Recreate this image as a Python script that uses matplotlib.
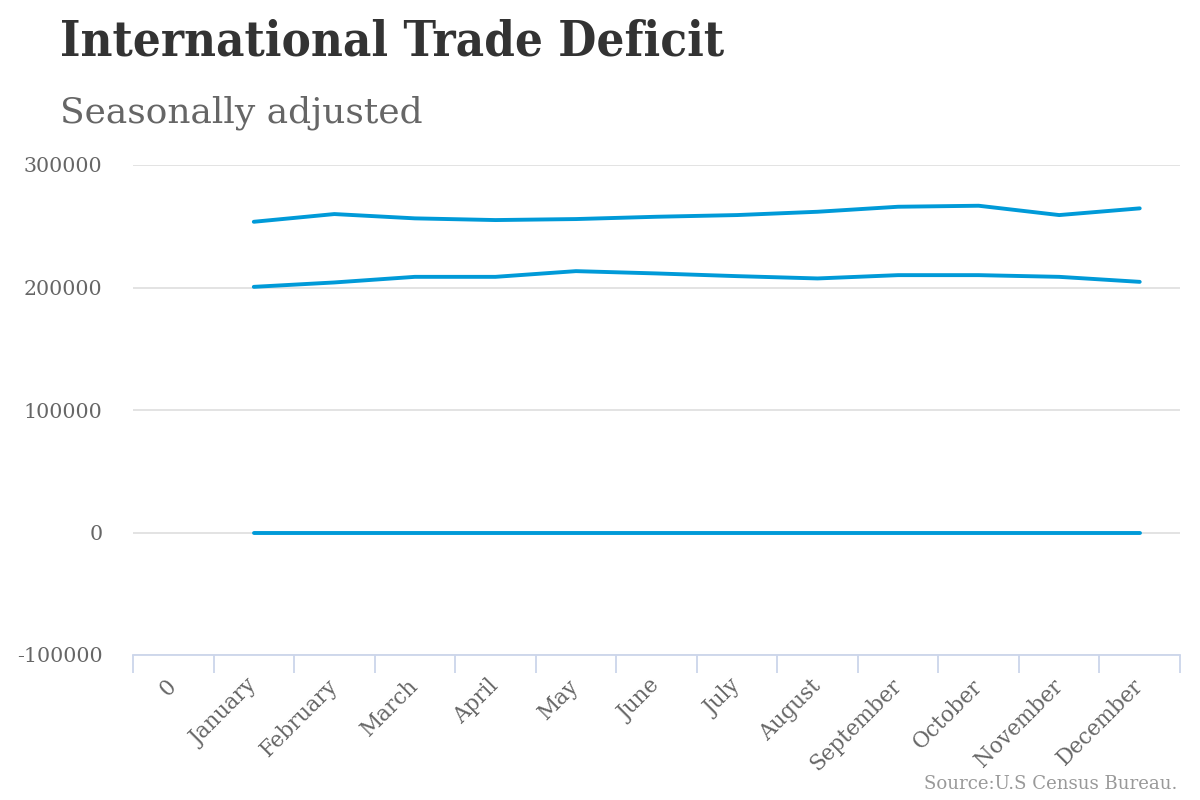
import matplotlib
matplotlib.use('Agg')
import matplotlib.pyplot as plt
import numpy as np

categories = ['0', 'January', 'February', 'March', 'April', 'May', 'June',
              'July', 'August', 'September', 'October', 'November', 'December']
months = categories[1:]

# values (start at January)
series_a = [253650, 259950, 256440, 255050, 255870, 257750,
            259130, 261830, 265920, 266740, 259130, 264610]
series_b = [200530, 204120, 208700, 208700, 213360, 211480,
            209270, 207390, 210090, 210090, 208700, 204610]
series_c = [0, 0, 0, 0, 0, 0, 0, 0, 0, 0, 0, 0]

y_ticks = [-100000, 0, 100000, 200000, 300000]

line_color = '#009ad8'
plt.rcParams['font.family'] = ['DejaVu Serif']

fig = plt.figure(figsize=(12, 8), dpi=100)
ax = fig.add_axes([133/1200, 1-655/800, (1180-133)/1200, (655-165)/800])

xpos = np.arange(1, len(categories))
for s in [series_a, series_b, series_c]:
    ax.plot(xpos, s, color=line_color, lw=2.8, solid_capstyle='round',
            solid_joinstyle='round', zorder=3)

ax.set_xlim(-0.5, len(categories) - 0.5)
ax.set_ylim(-100000, 300000)
ax.set_yticks(y_ticks)
ax.set_yticklabels([str(v) for v in y_ticks])
ax.yaxis.grid(True, color='#e0e0e0', lw=1.3)
ax.set_axisbelow(True)
ax.tick_params(axis='y', length=0, pad=22, labelsize=14.8, colors='#666666')

# ticks at category boundaries, labels at centres
ax.set_xticks(np.arange(-0.5, len(categories), 1.0))
ax.set_xticklabels([])
ax.set_xticks(np.arange(len(categories)), minor=True)
ax.set_xticklabels(categories, minor=True, rotation=45, ha='right',
                   va='center', rotation_mode='anchor')
ax.tick_params(axis='x', which='major', length=13, width=1.3, color='#ccd6eb')
ax.tick_params(axis='x', which='minor', length=0, pad=20, labelsize=15.5,
               labelcolor='#666666')

for side in ['top', 'right', 'left']:
    ax.spines[side].set_visible(False)
ax.spines['bottom'].set_color('#ccd6eb')
ax.spines['bottom'].set_linewidth(1.3)

fig.text(60/1200, 1-55/800, 'International Trade Deficit', fontsize=35.2,
         fontweight='bold', fontstretch='condensed', color='#333333',
         ha='left', va='baseline')
fig.text(60/1200, 1-122/800, 'Seasonally adjusted', fontsize=25.9,
         color='#666666', ha='left', va='baseline')
fig.text(1177/1200, 1-789/800, 'Source:U.S Census Bureau.', fontsize=13.1,
         color='#999999', ha='right', va='baseline')

fig.savefig('out.png', dpi=100)
